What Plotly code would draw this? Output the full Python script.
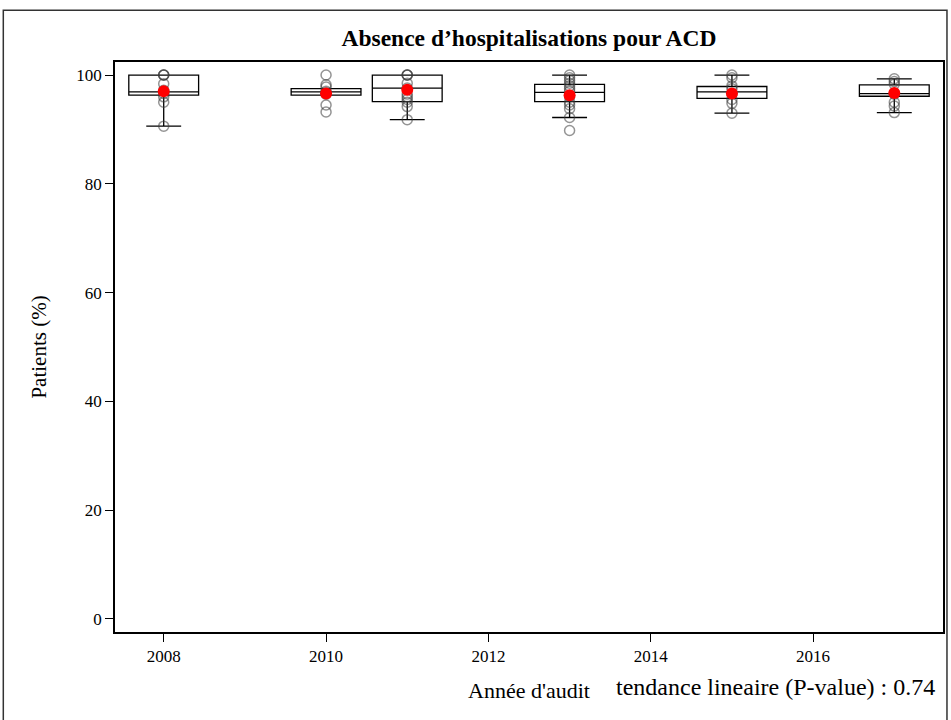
import plotly.graph_objects as go

# Audit years and per-year summary statistics (% patients without hospitalisation)
years = [2008, 2010, 2011, 2013, 2015, 2017]
q1 = [96.3, 96.3, 95.1, 95.1, 95.7, 96.1]
median = [96.9, 96.9, 97.6, 96.8, 96.9, 96.6]
q3 = [100.0, 97.5, 100.0, 98.3, 97.9, 98.2]
lower_fence = [90.6, 96.3, 91.8, 92.2, 93.0, 93.1]
upper_fence = [100.0, 97.5, 100.0, 100.0, 100.0, 99.3]
means = [97.0, 96.6, 97.3, 96.3, 96.6, 96.7]

# Individual centre values per year
centre_values = {
    2008: [100, 100, 100, 98.4, 97.2, 96.6, 96.0, 95.0, 90.6],
    2010: [100, 98.2, 97.8, 97.0, 96.8, 96.5, 94.5, 93.2],
    2011: [100, 100, 100, 98.5, 97.6, 96.5, 96.0, 95.5, 95.0, 94.2, 91.8],
    2013: [100, 99.5, 99.0, 98.5, 98.0, 97.5, 97.0, 96.0, 95.0, 94.5, 93.8, 92.2, 89.8],
    2015: [100, 99.5, 98.0, 97.5, 96.5, 95.5, 94.8, 93.0],
    2017: [99.3, 98.8, 98.3, 96.5, 95.0, 94.3, 93.1],
}

x_ticks = [2008, 2010, 2012, 2014, 2016]
y_ticks = [0, 20, 40, 60, 80, 100]

SERIF = "Liberation Serif, Times New Roman, serif"

fig = go.Figure()

fig.add_trace(go.Box(
    x=years, q1=q1, median=median, q3=q3,
    lowerfence=lower_fence, upperfence=upper_fence,
    width=0.86, whiskerwidth=0.5,
    fillcolor="rgba(255,255,255,0)",
    line=dict(color="black", width=1.3),
    boxpoints=False, hoverinfo="skip", showlegend=False,
))

px, py = [], []
for yr, vals in centre_values.items():
    px += [yr] * len(vals)
    py += vals
fig.add_trace(go.Scatter(
    x=px, y=py, mode="markers", showlegend=False,
    marker=dict(symbol="circle-open", size=10,
                color="rgba(60,60,60,0.55)", line=dict(width=1.5)),
))

fig.add_trace(go.Scatter(
    x=years, y=means, mode="markers", showlegend=False,
    marker=dict(symbol="circle", size=12, color="#ff0000"),
))

axis_common = dict(
    showline=True, linecolor="black", linewidth=1.6, mirror=True,
    ticks="outside", ticklen=8, tickcolor="black", tickwidth=1,
    showgrid=False, zeroline=False,
    tickfont=dict(family=SERIF, size=17, color="black"),
)

fig.update_layout(
    width=951, height=720,
    margin=dict(l=115, r=6, t=62, b=88),
    paper_bgcolor="white", plot_bgcolor="white",
    title=dict(text="<b>Absence d’hospitalisations pour ACD</b>",
               x=0.5, xref="paper", y=1 - 38 / 720, yanchor="middle",
               font=dict(family=SERIF, size=23.5, color="black")),
    xaxis=dict(axis_common, range=[2007.4, 2017.6], tickvals=x_ticks,
               title=dict(text="Année d'audit", standoff=17,
                          font=dict(family=SERIF, size=22, color="black"))),
    yaxis=dict(axis_common, range=[-2.4, 102.4], tickvals=y_ticks,
               title=dict(text="Patients (%)", standoff=24,
                          font=dict(family=SERIF, size=21, color="black"))),
    shapes=[dict(type="rect", xref="paper", yref="paper",
                 x0=-0.1349, x1=1.0048, y0=-0.16, y1=1.0907,
                 line=dict(color="#333333", width=1.5), layer="below")],
    annotations=[dict(text="tendance lineaire (P-value) : 0.74",
                      xref="paper", yref="paper", x=0.993, y=-0.097,
                      xanchor="right", yanchor="middle", showarrow=False,
                      font=dict(family=SERIF, size=24, color="black"))],
)

fig.write_html("out.html")
